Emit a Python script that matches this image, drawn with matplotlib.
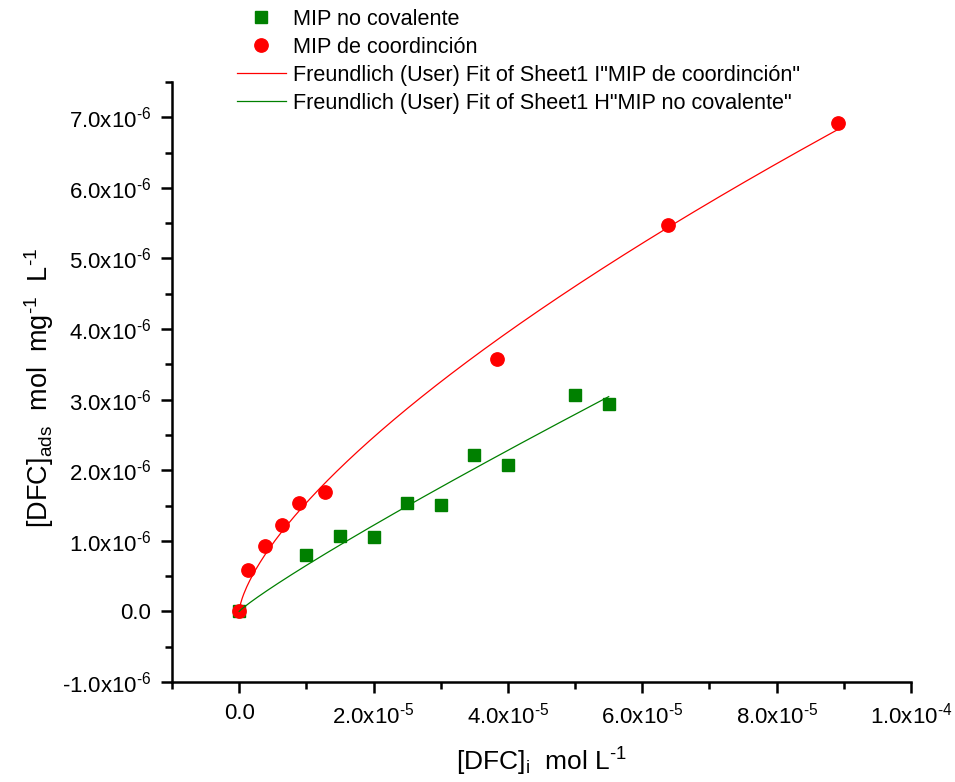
import numpy as np
import matplotlib
matplotlib.use("Agg")
import matplotlib.pyplot as plt
from matplotlib.ticker import MultipleLocator, FuncFormatter

plt.rcParams['font.family'] = ['Liberation Sans', 'DejaVu Sans']
plt.rcParams['mathtext.fontset'] = 'custom'
plt.rcParams['mathtext.rm'] = 'Liberation Sans'
plt.rcParams['mathtext.it'] = 'Liberation Sans:italic'
plt.rcParams['mathtext.bf'] = 'Liberation Sans:bold'

# DATA
# MIP no covalente (green squares)
x_nocov = [0.0, 1.0e-5, 1.5e-5, 2.0e-5, 2.5e-5, 3.0e-5, 3.5e-5, 4.0e-5, 5.0e-5, 5.5e-5]
y_nocov = [0.0, 0.80e-6, 1.07e-6, 1.05e-6, 1.54e-6, 1.51e-6, 2.21e-6, 2.08e-6, 3.06e-6, 2.94e-6]
# MIP de coordinación (red circles)
x_coord = [0.0, 1.29e-6, 3.87e-6, 6.44e-6, 8.97e-6, 1.28e-5, 3.84e-5, 6.38e-5, 8.92e-5]
y_coord = [0.0, 0.59e-6, 0.92e-6, 1.23e-6, 1.54e-6, 1.69e-6, 3.58e-6, 5.48e-6, 6.92e-6]

labels = ["MIP no covalente", "MIP de coordinción",
          "Freundlich (User) Fit of Sheet1 I\"MIP de coordinción\"",
          "Freundlich (User) Fit of Sheet1 H\"MIP no covalente\""]

HYPHEN = "\u2010"  # Origin prints a short hyphen, not a minus sign


def freundlich_fit(x, y):
    # least squares of y = K * x^b, scanning b and solving K directly
    x = np.asarray(x)
    y = np.asarray(y)
    best = None
    for b in np.linspace(0.2, 1.5, 2601):
        xb = x ** b
        k = np.sum(y * xb) / np.sum(xb * xb)
        err = np.sum((y - k * xb) ** 2)
        if best is None or err < best[0]:
            best = (err, k, b)
    return best[1], best[2]


def sci_fmt(v, pos):
    if abs(v) < 1e-15:
        return "0.0"
    e = int(np.floor(np.log10(abs(v)) + 1e-9))
    mant = ("%.1f" % (v / 10 ** e)).replace("-", HYPHEN)
    ex = str(e).replace("-", HYPHEN)
    return r"$\mathregular{%sx10^{%s}}$" % (mant, ex)


fig = plt.figure(figsize=(9.55, 7.82), dpi=100)
ax = fig.add_axes([172 / 955, 1 - 682 / 782, (911 - 172) / 955, (682 - 82) / 782])

sq, = ax.plot(x_nocov, y_nocov, ls='none', marker='s', ms=8.6, color='#008000', mec='#008000', zorder=3)
ci, = ax.plot(x_coord, y_coord, ls='none', marker='o', ms=9.6, color='#ff0000', mec='#ff0000', zorder=4)

k_c, b_c = freundlich_fit(x_coord, y_coord)
xf_c = np.linspace(0, max(x_coord), 400)
fit_c, = ax.plot(xf_c, k_c * xf_c ** b_c, color='#ff0000', lw=0.9, zorder=5)

k_n, b_n = freundlich_fit(x_nocov, y_nocov)
xf_n = np.linspace(0, max(x_nocov), 400)
fit_n, = ax.plot(xf_n, k_n * xf_n ** b_n, color='#008000', lw=0.9, zorder=5)

ax.set_xlim(-1e-5, 1e-4)
ax.set_ylim(-1e-6, 7.5e-6)
ax.xaxis.set_major_locator(MultipleLocator(2e-5))
ax.xaxis.set_minor_locator(MultipleLocator(1e-5))
ax.yaxis.set_major_locator(MultipleLocator(1e-6))
ax.yaxis.set_minor_locator(MultipleLocator(5e-7))
ax.xaxis.set_major_formatter(FuncFormatter(sci_fmt))
ax.yaxis.set_major_formatter(FuncFormatter(sci_fmt))

for side in ['top', 'right']:
    ax.spines[side].set_visible(False)
for side in ['left', 'bottom']:
    ax.spines[side].set_linewidth(1.8)
ax.tick_params(which='major', direction='out', length=8, width=1.8, labelsize=16, pad=7)
ax.tick_params(which='minor', direction='out', length=5, width=1.8)
ax.tick_params(axis='x', which='major', pad=7)

ax.set_xlabel(r"$\mathregular{[DFC]_{i}\ \ mol\ L^{%s1}}$" % HYPHEN, fontsize=19, labelpad=12)
ax.set_ylabel(r"$\mathregular{[DFC]_{ads}\ \ mol\ \ mg^{%s1}\ \ L^{%s1}}$" % (HYPHEN, HYPHEN), fontsize=19.5)
ax.yaxis.set_label_coords(-0.157, 0.49)

fig.legend([sq, ci, fit_c, fit_n], labels, loc='upper left',
           bbox_to_anchor=(237 / 955, 1 - 9 / 782), frameon=False, fontsize=15.6,
           handlelength=2.25, handletextpad=0.32, labelspacing=0.32, borderpad=0,
           borderaxespad=0, numpoints=1)

fig.savefig("out.png", dpi=100)
